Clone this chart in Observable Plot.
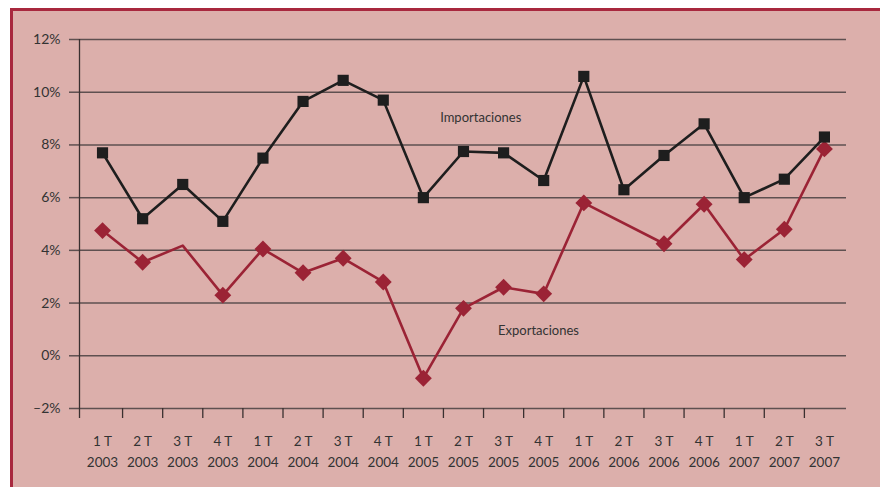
<!DOCTYPE html>
<html>
<head>
<meta charset="utf-8">
<script src="https://cdn.jsdelivr.net/npm/d3@7"></script>
<script src="https://cdn.jsdelivr.net/npm/@observablehq/plot@0.6"></script>
<style>
  html, body { margin: 0; padding: 0; background: #ffffff; width: 880px; height: 487px; overflow: hidden; }
  #frame {
    position: absolute; left: 10px; top: 8px;
    width: 867px; height: 476px;
    background: #dcafab;
    border-left: 3px solid #a8283e;
    border-top: 3px solid #a8283e;
  }
  #frame svg { display: block; background: transparent; }
</style>
</head>
<body>
<div id="frame"></div>
<script>
// Quarter labels (x categories)
const quarters = ["1 T\n2003","2 T\n2003","3 T\n2003","4 T\n2003",
                  "1 T\n2004","2 T\n2004","3 T\n2004","4 T\n2004",
                  "1 T\n2005","2 T\n2005","3 T\n2005","4 T\n2005",
                  "1 T\n2006","2 T\n2006","3 T\n2006","4 T\n2006",
                  "1 T\n2007","2 T\n2007","3 T\n2007"];

// Series values (% growth)
const importaciones = [7.7, 5.2, 6.5, 5.1, 7.5, 9.65, 10.45, 9.7, 6.0, 7.75, 7.7, 6.65, 10.6, 6.3, 7.6, 8.8, 6.0, 6.7, 8.3];
const exportaciones = [4.75, 3.55, 4.18, 2.3, 4.05, 3.15, 3.7, 2.8, -0.85, 1.8, 2.6, 2.35, 5.8, null, 4.25, 5.75, 3.65, 4.8, 7.85];
// Quarters drawn as a bend in the line but without a marker
const exportacionesSinMarca = ["3 T\n2003"];

// Y tick values
const yTicks = [-2, 0, 2, 4, 6, 8, 10, 12];

const idx = quarters.map((q, i) => i);
const impData = idx.map(i => ({i, q: quarters[i], v: importaciones[i]}));
const expData = idx.filter(i => exportaciones[i] != null).map(i => ({i, q: quarters[i], v: exportaciones[i]}));
const expDots = expData.filter(d => !exportacionesSinMarca.includes(d.q));

const xMin = -0.574, xMax = 18.55;
const boundaries = [xMin].concat(idx.slice(0, -1).map(i => i + 0.5));

const font = "'Lato', 'Noto Sans', sans-serif";
const gridColor = "#5e5050";

const chart = Plot.plot({
  width: 867,
  height: 476,
  marginLeft: 66,
  marginRight: 34,
  marginTop: 28,
  marginBottom: 79,
  style: {fontFamily: font, background: "transparent", color: "#333"},
  x: {type: "linear", domain: [xMin, xMax], axis: null},
  y: {domain: [-2, 12], axis: null},
  marks: [
    Plot.gridY(yTicks, {stroke: gridColor, strokeOpacity: 1, strokeWidth: 1.5}),
    Plot.axisY({ticks: yTicks, label: null, tickSize: 10, tickPadding: 9, stroke: gridColor, strokeWidth: 1.5,
      tickFormat: d => (d < 0 ? "\u2013" + Math.abs(d) : d) + "%", fontSize: 14, fill: "#333"}),
    Plot.ruleX([xMin], {stroke: "#3a3030", strokeWidth: 1.3}),
    Plot.axisX({ticks: boundaries, label: null, tickSize: 10, tickFormat: () => "", stroke: "#3a3030", strokeWidth: 1.3}),
    Plot.axisX({ticks: idx, label: null, tickSize: 0, tickPadding: 22, tickFormat: i => quarters[i],
      fontSize: 13.5, lineHeight: 1.58, fill: "#333"}),
    Plot.line(expData, {x: "i", y: "v", stroke: "#9b2335", strokeWidth: 2.6}),
    Plot.dot(expDots, {x: "i", y: "v", symbol: "diamond2", r: 7.6, fill: "#9b2335", stroke: "none"}),
    Plot.line(impData, {x: "i", y: "v", stroke: "#1e1e1e", strokeWidth: 2.6}),
    Plot.dot(impData, {x: "i", y: "v", symbol: "square", r: 6.3, fill: "#1e1e1e", stroke: "none"}),
    Plot.text(["Importaciones"], {x: 9.43, y: 9.04, text: d => d, fontSize: 13, fill: "#333"}),
    Plot.text(["Exportaciones"], {x: 10.87, y: 0.95, text: d => d, fontSize: 13, fill: "#333"})
  ]
});
document.getElementById("frame").appendChild(chart);
</script>
</body>
</html>
